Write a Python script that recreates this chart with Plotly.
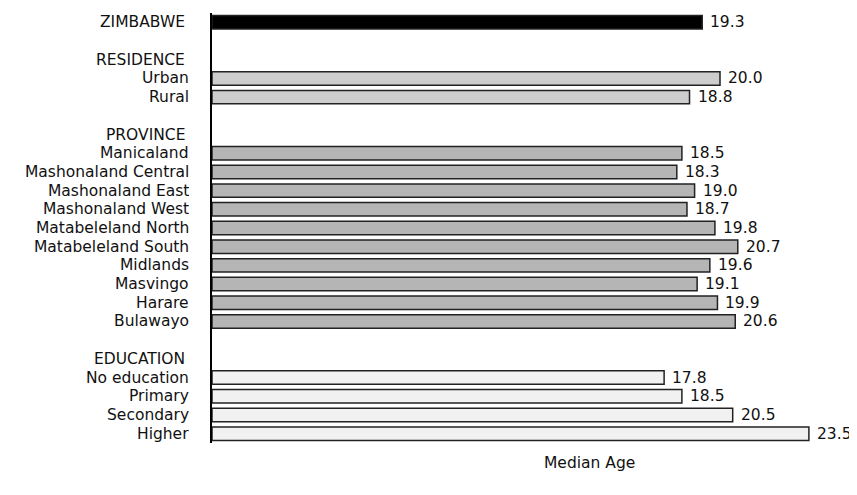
import plotly.graph_objects as go

# Data
rows = ["ZIMBABWE", "", "RESIDENCE", "Urban", "Rural", "", "PROVINCE",
        "Manicaland", "Mashonaland Central", "Mashonaland East", "Mashonaland West",
        "Matabeleland North", "Matabeleland South", "Midlands", "Masvingo", "Harare",
        "Bulawayo", "", "EDUCATION", "No education", "Primary", "Secondary", "Higher"]
headers = ["ZIMBABWE", "RESIDENCE", "PROVINCE", "EDUCATION"]

total_labels = ["ZIMBABWE"]
total_values = [19.3]

residence_labels = ["Urban", "Rural"]
residence_values = [20.0, 18.8]

province_labels = ["Manicaland", "Mashonaland Central", "Mashonaland East", "Mashonaland West",
                   "Matabeleland North", "Matabeleland South", "Midlands", "Masvingo",
                   "Harare", "Bulawayo"]
province_values = [18.5, 18.3, 19.0, 18.7, 19.8, 20.7, 19.6, 19.1, 19.9, 20.6]

education_labels = ["No education", "Primary", "Secondary", "Higher"]
education_values = [17.8, 18.5, 20.5, 23.5]

x_title = "Median Age"

# unique category keys (blank rows need unique keys)
keys = []
blank_count = 0
for r in rows:
    if r == "":
        blank_count += 1
        keys.append("_blank%d" % blank_count)
    else:
        keys.append(r)

FONT = "DejaVu Sans"
FS = 15.5
fig = go.Figure()

groups = [
    (total_labels, total_values, "#000000"),
    (residence_labels, residence_values, "#cdcdcd"),
    (province_labels, province_values, "#b5b5b5"),
    (education_labels, education_values, "#f1f1f1"),
]
for labels, values, color in groups:
    fig.add_trace(go.Bar(
        y=labels, x=values, orientation="h",
        marker=dict(color=color, line=dict(color="#222222", width=1.5)),
        width=0.72, showlegend=False, hoverinfo="skip",
    ))
    for lab, v in zip(labels, values):
        fig.add_annotation(x=v, y=lab, xref="x", yref="y", text="%.1f" % v,
                           showarrow=False, xanchor="left", xshift=6, height=18,
                           font=dict(family=FONT, size=FS, color="#111111"))

# category labels
for r, k in zip(rows, keys):
    if r == "":
        continue
    shift = -25 if r in headers else -21
    fig.add_annotation(x=0, y=k, xref="x", yref="y", text=r, showarrow=False,
                       xanchor="right", xshift=shift, height=18,
                       font=dict(family=FONT, size=FS, color="#111111"))

fig.add_annotation(x=0.595, y=-0.022, xref="paper", yref="paper", text=x_title,
                   showarrow=False, xanchor="center", yanchor="top",
                   font=dict(family=FONT, size=FS, color="#111111"))

fig.update_layout(
    width=849, height=487,
    margin=dict(l=204, r=10, t=5, b=52),
    plot_bgcolor="white", paper_bgcolor="white",
    bargap=0.28,
    xaxis=dict(range=[0, 25], showgrid=False, zeroline=False, showticklabels=False,
               ticks="", showline=False),
    yaxis=dict(categoryorder="array", categoryarray=keys, range=[22.5, -0.5],
               showticklabels=False, ticks="", showgrid=False, zeroline=False,
               showline=True, linecolor="black", linewidth=2),
)

fig.write_html("out.html")
